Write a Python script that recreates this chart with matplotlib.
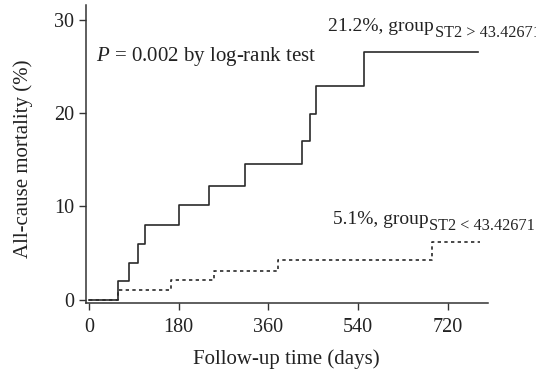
import matplotlib
matplotlib.use('Agg')
import matplotlib.pyplot as plt

plt.rcParams['font.family'] = 'Liberation Serif'
plt.rcParams['mathtext.fontset'] = 'custom'
plt.rcParams['mathtext.rm'] = 'Liberation Serif'
plt.rcParams['mathtext.it'] = 'Liberation Serif:italic'

# high ST2 group (solid)
high_days = [0, 59, 81, 99, 112, 181, 242, 314, 427, 444, 455, 551, 780]
high_mort = [0, 2.0, 3.9, 6.0, 8.0, 10.1, 12.2, 14.5, 17.0, 19.9, 22.9, 26.5, 26.5]
# low ST2 group (dotted)
low_days = [0, 58, 165, 251, 379, 689, 785]
low_mort = [0, 1.0, 2.1, 3.1, 4.2, 6.2, 6.2]

xticks = [0, 180, 360, 540, 720]
yticks = [0, 10, 20, 30]

ink = '#222222'

fig = plt.figure(figsize=(5.36, 3.74), dpi=100)
ax = fig.add_axes([0.16, 0.19, 0.75, 0.797])

ax.step(high_days, high_mort, where='post', color='#2a2a2a', lw=1.2)
ax.step(low_days, low_mort, where='post', color='#2a2a2a', lw=1.2, linestyle=(0, (2, 2)))

ax.set_xlim(-6, 800)
ax.set_ylim(-0.35, 31.6)
ax.set_xticks(xticks)
ax.set_yticks(yticks)
ax.spines['top'].set_visible(False)
ax.spines['right'].set_visible(False)
for s in ['left', 'bottom']:
    ax.spines[s].set_color('#333333')
    ax.spines[s].set_linewidth(1.1)
ax.tick_params(labelsize=14.5, length=5, width=1, color='#333333', labelcolor=ink)
ax.tick_params(axis='x', pad=6)

ax.set_xlabel('Follow-up time (days)', fontsize=15, color=ink, labelpad=9)
ax.set_ylabel('All-cause mortality (%)', fontsize=15, color=ink)
ax.yaxis.set_label_coords(-0.131, 0.483)

ax.text(15, 25.6, r'$P$ = 0.002 by log-rank test', fontsize=15, color=ink)

# group labels with subscript drawn as a second, smaller text
t1 = ax.text(480, 28.75, '21.2%, group', fontsize=14, color=ink)
ax.annotate('ST2 > 43.42671', xy=(1, 0), xycoords=t1, xytext=(0.5, -1.2),
            textcoords='offset points', fontsize=11.7, color=ink, va='baseline')
t2 = ax.text(490, 8.1, '5.1%, group', fontsize=14, color=ink)
ax.annotate('ST2 < 43.42671', xy=(1, 0), xycoords=t2, xytext=(0.5, -1.2),
            textcoords='offset points', fontsize=11.7, color=ink, va='baseline')

fig.savefig('out.png', dpi=100)
